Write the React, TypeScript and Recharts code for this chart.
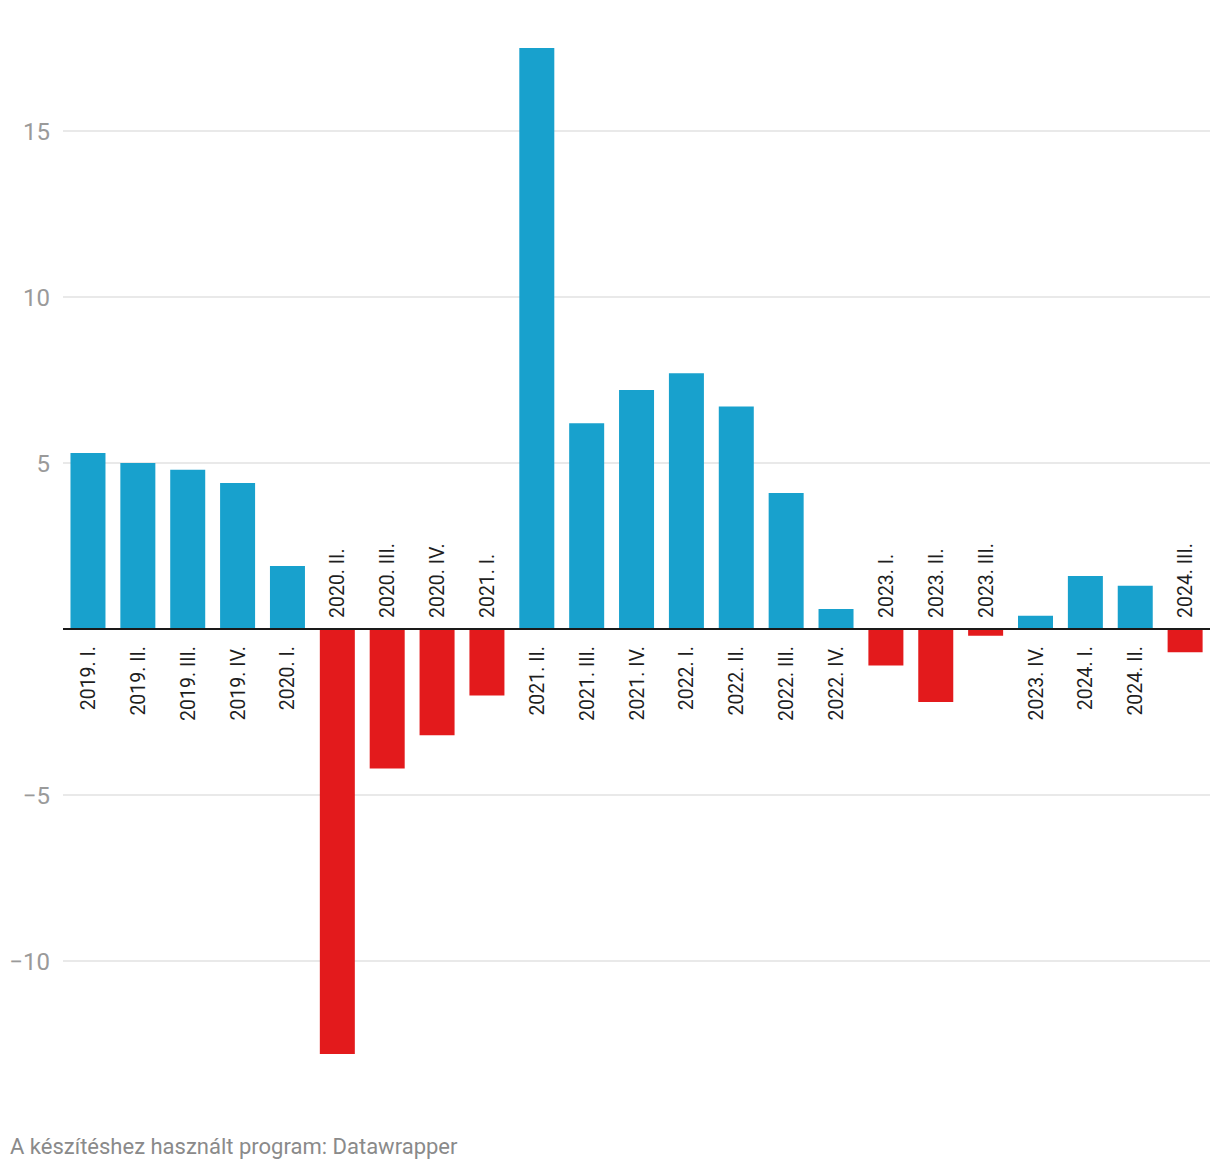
import React from "react";
import {Bar, BarChart, CartesianGrid, Cell, LabelList, ReferenceLine, XAxis, YAxis} from "recharts";

const quarters = [
	"2019. I.", "2019. II.", "2019. III.", "2019. IV.",
	"2020. I.", "2020. II.", "2020. III.", "2020. IV.",
	"2021. I.", "2021. II.", "2021. III.", "2021. IV.",
	"2022. I.", "2022. II.", "2022. III.", "2022. IV.",
	"2023. I.", "2023. II.", "2023. III.", "2023. IV.",
	"2024. I.", "2024. II.", "2024. III.",
];
const changes = [
	5.3, 5.0, 4.8, 4.4,
	1.9, -12.8, -4.2, -3.2,
	-2.0, 17.5, 6.2, 7.2,
	7.7, 6.7, 4.1, 0.6,
	-1.1, -2.2, -0.2, 0.4,
	1.6, 1.3, -0.7,
];
const yTicks = [-10, -5, 0, 5, 10, 15];
const gridValues = [-10, -5, 5, 10, 15];

const BLUE = "#18a1cd";
const RED = "#e31a1c";
const FONT = "Roboto, 'Noto Sans', sans-serif";

const data = quarters.map((q, i) => ({q, value: changes[i]}));

const fmt = (v: number) => (v < 0 ? "\u2212" + Math.abs(v) : String(v));

const YTick = (props: any) => {
	const {x, y, payload} = props;
	if (payload.value === 0) return null;
	return <text x={x - 5} y={y} dy="0.36em" textAnchor="end" fontSize={24} fill="#9a9a9a" fontFamily={FONT}>
		{fmt(payload.value)}
	</text>
};

const QuarterLabel = (props: any) => {
	const {x, y, width, height, value, index} = props;
	const top = Math.min(y, y + height);
	const bottom = Math.max(y, y + height);
	const cx = x + width / 2;
	const neg = value < 0;
	const ay = neg ? top - 11 : bottom + 17;
	return <text x={cx} y={ay} dy="0.36em" transform={`rotate(-90 ${cx} ${ay})`}
							 textAnchor={neg ? "start" : "end"} fontSize={19.5} fill="#1e1e1e" fontFamily={FONT}>
		{quarters[index]}
	</text>
};

export default function App() {
	return <div style={{position: "absolute", left: 0, top: 0, width: 1220, height: 1174, background: "#fff"}}>
		<BarChart width={1220} height={1174} data={data} margin={{top: 31.4, right: 10, left: 0, bottom: 80.2}}
							barCategoryGap="15%">
			<CartesianGrid vertical={false} stroke="#e2e2e2" strokeWidth={1.5} horizontalValues={gridValues}/>
			<XAxis dataKey="q" hide/>
			<YAxis domain={[-14, 18]} ticks={yTicks} width={63} axisLine={false} tickLine={false} tick={<YTick/>}
						 interval={0}/>
			<Bar dataKey="value" isAnimationActive={false}>
				{data.map((d, i) => <Cell key={i} fill={d.value < 0 ? RED : BLUE}/>)}
				<LabelList dataKey="value" content={<QuarterLabel/>}/>
			</Bar>
			<ReferenceLine y={0} stroke="#1a1a1a" strokeWidth={2}/>
		</BarChart>
		<div style={{position: "absolute", left: 10, top: 1134, fontFamily: FONT, fontSize: 22, color: "#8a8a8a"}}>
			A készítéshez használt program: Datawrapper
		</div>
	</div>
}
